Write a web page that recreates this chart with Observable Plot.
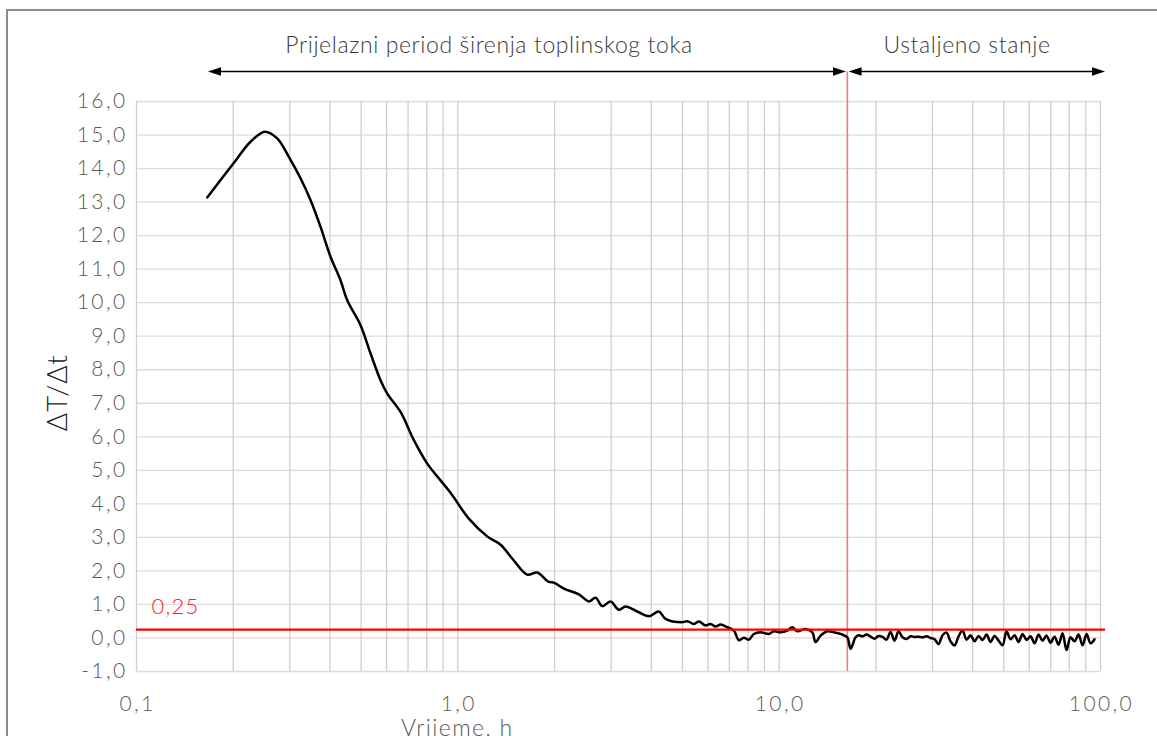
<!DOCTYPE html>
<html>
<head>
<meta charset="utf-8">
<script src="https://cdn.jsdelivr.net/npm/d3@7"></script>
<script src="https://cdn.jsdelivr.net/npm/@observablehq/plot@0.6"></script>
<style>
  html, body { margin: 0; padding: 0; background: #fff; }
  #chart { width: 1157px; height: 736px; overflow: hidden; }
  svg { display: block; }
  .tick-font text { font-weight: 300; letter-spacing: 2.4px; }
  .red-font text { font-weight: 300; letter-spacing: 1.2px; }
</style>
</head>
<body>
<div id="chart"></div>
<script>
// ---- data ----
const times = [
  0.166, 0.1994, 0.2264, 0.2508, 0.274, 0.2979, 0.3239, 0.3479, 0.3739, 0.4016,
  0.4314, 0.4527, 0.498, 0.5352, 0.5746, 0.603, 0.6634, 0.7297, 0.8031, 0.8835,
  0.949, 1.082, 1.234, 1.358, 1.494, 1.644, 1.766, 1.92, 1.99, 2.138,
  2.381, 2.557, 2.683, 2.815, 2.987, 3.17, 3.326, 3.617, 3.932, 4.222,
  4.43, 4.994, 5.176, 5.426, 5.625, 5.901, 6.117, 6.341, 6.572, 6.896,
  7.228, 7.493, 7.767, 8.05, 8.34, 8.75, 9.29, 9.63, 10.1, 10.6,
  10.98, 11.38, 12.08, 12.68, 12.98, 13.46, 14.12, 14.8, 15.53, 16.29,
  16.68, 17.29, 17.66, 18.17, 18.7, 19.25, 19.81, 20.38, 20.98, 21.59,
  22.21, 22.86, 23.52, 24.21, 24.91, 25.64, 26.38, 27.15, 27.94, 28.75,
  29.59, 30.45, 31.33, 32.24, 33.18, 34.14, 35.14, 36.16, 37.21, 38.29,
  39.41, 40.55, 41.73, 42.95, 44.2, 45.48, 46.8, 48.17, 49.57, 51.01,
  52.49, 54.02, 55.59, 57.2, 58.87, 60.58, 62.34, 64.15, 66.02, 67.94,
  69.91, 71.94, 74.04, 76.19, 78.4, 80.68, 83.03, 85.45, 87.93, 90.49,
  93.12, 95.83
];
const values = [
  13.14, 14.13, 14.80, 15.10, 14.90, 14.35, 13.71, 13.06, 12.26, 11.37,
  10.67, 10.07, 9.33, 8.48, 7.69, 7.29, 6.74, 5.90, 5.20, 4.70,
  4.33, 3.56, 3.03, 2.78, 2.31, 1.89, 1.95, 1.67, 1.65, 1.47,
  1.30, 1.09, 1.20, 0.95, 1.09, 0.84, 0.94, 0.79, 0.65, 0.79,
  0.57, 0.47, 0.50, 0.42, 0.49, 0.37, 0.42, 0.34, 0.40, 0.32,
  0.22, -0.07, 0.01, -0.05, 0.12, 0.17, 0.12, 0.20, 0.17, 0.22,
  0.32, 0.20, 0.27, 0.17, -0.12, 0.07, 0.20, 0.17, 0.12, 0.02,
  -0.32, 0.02, 0.08, 0.05, 0.10, 0.04, -0.02, 0.06, 0.03, -0.05,
  0.18, -0.08, 0.20, 0.02, -0.03, 0.05, 0.03, 0.04, 0.02, 0.05,
  0.00, -0.04, -0.18, 0.08, 0.16, -0.10, -0.22, 0.05, 0.22, -0.05,
  0.08, -0.10, 0.06, -0.06, 0.10, -0.12, 0.06, -0.08, -0.22, 0.20,
  -0.04, 0.08, -0.12, 0.12, -0.06, 0.05, -0.16, 0.10, -0.08, 0.07,
  -0.14, 0.04, -0.20, 0.14, -0.36, 0.02, -0.10, 0.10, -0.22, 0.12,
  -0.16, -0.04
];
const xTickValues = [0.1, 1, 10, 100];
const xGridValues = [0.1, 0.2, 0.3, 0.4, 0.5, 0.6, 0.7, 0.8, 0.9,
                     1, 2, 3, 4, 5, 6, 7, 8, 9,
                     10, 20, 30, 40, 50, 60, 70, 80, 90, 100];
const yTickValues = [-1, 0, 1, 2, 3, 4, 5, 6, 7, 8, 9, 10, 11, 12, 13, 14, 15, 16];
const threshold = [0.25];
const thresholdLabel = ["0,25"];
const steadyStart = [16.3];
const phaseLabels = ["Prijelazni period širenja toplinskog toka", "Ustaljeno stanje"];
const phaseStart = [0.1675, 16.5];
const phaseEnd = [16.2, 103.7];
const annotY = 16.88;
const xLabel = "Vrijeme, h";
const yLabel = "ΔT/Δt";

const data = times.map((t, i) => ({t, v: values[i]}));
const fmt = d => (d < 1 ? "0,1" : d.toFixed(1).replace(".", ","));
const fmtY = d => d.toFixed(1).replace(".", ",");

const FONT = "Lato, 'Open Sans', sans-serif";

const plot = Plot.plot({
  width: 1157,
  height: 736,
  marginLeft: 136,
  marginRight: 57,
  marginTop: 101,
  marginBottom: 65,
  style: {fontFamily: FONT, fontSize: "21px", color: "#595959", background: "#fff", overflow: "visible"},
  x: {type: "log", domain: [0.1, 100]},
  y: {domain: [-1, 16]},
  marks: [
    Plot.ruleY(yTickValues, {stroke: "#dcdcdc", strokeWidth: 1.3}),
    Plot.ruleX(xGridValues, {stroke: "#cfcfcf", strokeWidth: 1.3}),
    Plot.axisX(xTickValues, {tickSize: 0, tickPadding: 25, tickFormat: fmt, label: null, fontSize: 21, className: "tick-font", dx: 1}),
    Plot.axisY(yTickValues, {tickSize: 0, tickPadding: 9, tickFormat: fmtY, label: null, fontSize: 21, className: "tick-font"}),
    Plot.ruleX(steadyStart, {y1: -1, y2: annotY, stroke: "#ff7474", strokeWidth: 1.6, clip: false}),
    Plot.line(data, {x: "t", y: "v", stroke: "#000", strokeWidth: 2.5, curve: "catmull-rom"}),
    Plot.ruleY(threshold, {x1: 0.1, x2: phaseEnd[1], stroke: "#ff0000", strokeWidth: 2.4, clip: false}),
    Plot.text(threshold, {x: 0.1, y: d => d, text: () => thresholdLabel[0], dx: 15, dy: -23,
      textAnchor: "start", fill: "#ff2020", fontSize: 22, className: "red-font"})
  ]
});

document.getElementById("chart").appendChild(plot);

const svg = d3.select(plot);
const xs = plot.scale("x");
const ys = plot.scale("y");
const ay = ys.apply(annotY);

// outer chart border
svg.insert("rect", ":first-child")
  .attr("x", 7).attr("y", 10).attr("width", 1200).attr("height", 800)
  .attr("fill", "#fff").attr("stroke", "#8c8c8c").attr("stroke-width", 2);

// phase arrows
const g = svg.append("g");
phaseStart.forEach((s, i) => {
  const x1 = xs.apply(s), x2 = xs.apply(phaseEnd[i]);
  g.append("line").attr("x1", x1 + 6).attr("x2", x2 - 6).attr("y1", ay).attr("y2", ay)
    .attr("stroke", "#000").attr("stroke-width", 1.4);
  g.append("path").attr("d", `M${x1},${ay} L${x1 + 13},${ay - 4.2} L${x1 + 13},${ay + 4.2} Z`).attr("fill", "#000");
  g.append("path").attr("d", `M${x2},${ay} L${x2 - 13},${ay - 4.2} L${x2 - 13},${ay + 4.2} Z`).attr("fill", "#000");
});
const labelX = [489, 967];
phaseLabels.forEach((lab, i) => {
  g.append("text").attr("x", labelX[i]).attr("y", ay - 24)
    .attr("text-anchor", "middle").attr("dominant-baseline", "middle")
    .attr("font-family", FONT).attr("font-weight", 300).attr("letter-spacing", "0.6px")
    .attr("font-size", 23).attr("fill", "#3a3a3a")
    .text(lab);
});

// axis titles
svg.append("text").attr("transform", `translate(60,${ys.apply(7.3)}) rotate(-90)`)
  .attr("text-anchor", "middle").attr("dominant-baseline", "middle")
  .attr("font-family", FONT).attr("font-weight", 300).attr("letter-spacing", "0.8px")
  .attr("font-size", 28).attr("fill", "#1a1a1a")
  .text(yLabel);
svg.append("text").attr("x", xs.apply(1)).attr("y", 730)
  .attr("text-anchor", "middle").attr("dominant-baseline", "middle")
  .attr("font-family", FONT).attr("font-weight", 300).attr("letter-spacing", "1.4px")
  .attr("font-size", 23).attr("fill", "#595959")
  .text(xLabel);
</script>
</body>
</html>
